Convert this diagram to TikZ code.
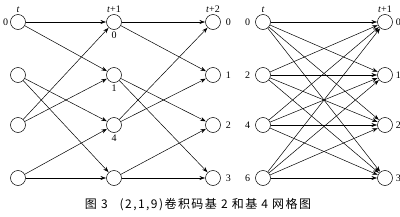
\documentclass[tikz,border=0pt]{standalone}
\usepackage{fontspec}
\setmainfont{Liberation Serif}
\newfontfamily\cjk[LetterSpace=12]{Noto Sans CJK SC}
\usetikzlibrary{arrows.meta, positioning}

\begin{document}
\begin{tikzpicture}[
	x=1pt, y=-1pt,
	font=\fontsize{10}{11}\selectfont,
	state/.style={draw, circle, minimum size=15pt, inner sep=0pt, line width=0.5pt},
	tag/.style={inner sep=1pt},
	branch/.style={-{Stealth[length=5.5pt, width=4pt]}, line width=0.5pt, shorten >=0.3pt}
]
\useasboundingbox (0,0) rectangle (400,217);

% radix-2 trellis
\node[state] (a0) at (18,22) {};
\node[state] (a1) at (18,75) {};
\node[state] (a2) at (18,125) {};
\node[state] (a3) at (18,178) {};
\node[state] (b0) at (114,22) {};
\node[state] (b1) at (114,75) {};
\node[state] (b2) at (114,125) {};
\node[state] (b3) at (114,178) {};
\node[state] (c0) at (213,22) {};
\node[state] (c1) at (213,75) {};
\node[state] (c2) at (213,125) {};
\node[state] (c3) at (213,178) {};

\node[tag, above=0pt of a0] (ta) {\textit{t}};
\node[tag, above=0pt of b0] (tb) {\textit{t}+1};
\node[tag, above=0pt of c0] (tc) {\textit{t}+2};
\node[tag, left=1pt of a0] (la0) {0};
\node[tag, below=1pt of b0] (lb0) {0};
\node[tag, below=1pt of b1] (lb1) {1};
\node[tag, below=1pt of b2] (lb2) {4};
\node[tag, right=4pt of c0] (lc0) {0};
\node[tag, right=4pt of c1] (lc1) {1};
\node[tag, right=4pt of c2] (lc2) {2};
\node[tag, right=4pt of c3] (lc3) {3};

\foreach \u/\v in {a/b, b/c} {
	\draw[branch] (\u0) -- (\v0);
	\draw[branch] (\u0) -- (\v1);
	\draw[branch] (\u1) -- (\v2);
	\draw[branch] (\u1) -- (\v3);
	\draw[branch] (\u2) -- (\v0);
	\draw[branch] (\u2) -- (\v1);
	\draw[branch] (\u3) -- (\v2);
	\draw[branch] (\u3) -- (\v3);
}

% radix-4 trellis
\node[state] (d0) at (263,22) {};
\node[state] (d1) at (263,75) {};
\node[state] (d2) at (263,125) {};
\node[state] (d3) at (263,178) {};
\node[state] (e0) at (385,22) {};
\node[state] (e1) at (385,75) {};
\node[state] (e2) at (385,125) {};
\node[state] (e3) at (385,178) {};

\node[tag, above=0pt of d0] (td) {\textit{t}};
\node[tag, above=0pt of e0] (te) {\textit{t}+1};
\node[tag, left=4pt of d0] (ld0) {0};
\node[tag, left=4pt of d1] (ld1) {2};
\node[tag, left=4pt of d2] (ld2) {4};
\node[tag, left=4pt of d3] (ld3) {6};
\node[tag, right=2pt of e0] (le0) {0};
\node[tag, right=2pt of e1] (le1) {1};
\node[tag, right=2pt of e2] (le2) {2};
\node[tag, right=2pt of e3] (le3) {3};

\foreach \i in {0,...,3}
	\foreach \j in {0,...,3}
		\draw[branch] (d\i) -- (e\j);

\node[font=\cjk\fontsize{12}{14}\selectfont] (cap) at (198,205) {图 3\quad (2,1,9)卷积码基 2 和基 4 网格图};
\end{tikzpicture}
\end{document}
